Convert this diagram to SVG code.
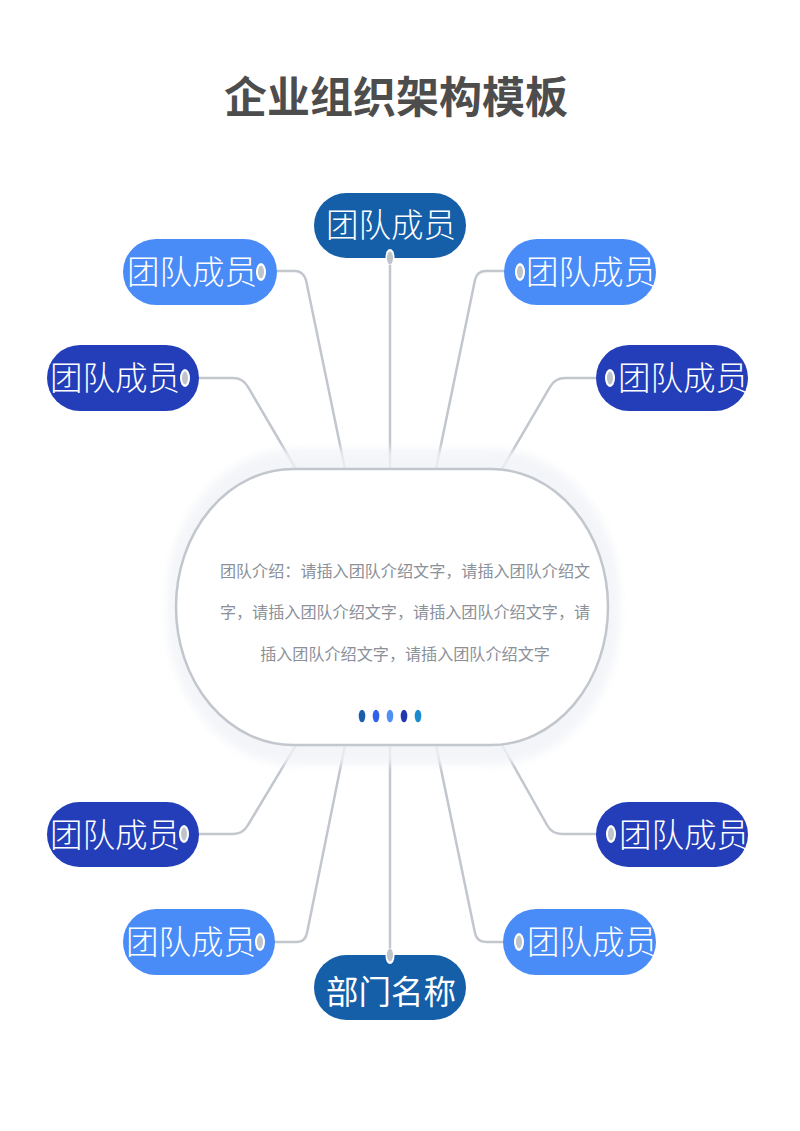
<svg xmlns="http://www.w3.org/2000/svg" width="800" height="1131" viewBox="0 0 800 1131">
<defs>
<style>
.conn{fill:none;stroke:#c2c6cd;stroke-width:2.5;stroke-linecap:round}
.pill-dark{fill:#233eb8}
.pill-light{fill:#4a8cf7}
.pill-main{fill:#155ea8}
.lbl{font-family:"Noto Sans CJK SC","Noto Sans",sans-serif;font-size:32.5px;fill:#ffffff;font-weight:300}
.knob-o{fill:#ffffff}
.knob-i{fill:#bfc3ca}
.intro{font-family:"Noto Sans CJK SC","Noto Sans",sans-serif;font-size:16.1px;fill:#8b9099}
</style>
<filter id="blur" x="-20%" y="-20%" width="140%" height="140%"><feGaussianBlur stdDeviation="4"/></filter>
</defs>
<rect width="800" height="1131" fill="#ffffff"/>
<text x="396" y="113" text-anchor="middle" font-family="'Noto Sans CJK SC','Noto Sans',sans-serif" font-size="43" font-weight="bold" fill="#4d4d4d">企业组织架构模板</text>

<g id="connectors">
<path class="conn" d="M390,258 V469"/>
<path class="conn" d="M277,271 H295 Q303,271 306,280 L345,469"/>
<path class="conn" d="M199,378 H233 Q243,378 248,387 L296,469"/>
<path class="conn" d="M504,271 H486 Q477,271 475,280 L436,469"/>
<path class="conn" d="M596,378 H565 Q555,378 550,387 L502,469"/>
<path class="conn" d="M390,745 V958"/>
<path class="conn" d="M199,834 H233 Q243,834 248,825 L296,745"/>
<path class="conn" d="M275,942 H297 Q305,942 307,933 L345,745"/>
<path class="conn" d="M596,834 H562 Q552,834 547,825 L502,745"/>
<path class="conn" d="M503,942 H486 Q477,942 475,933 L436,745"/>
</g>

<g id="center">
<rect x="167" y="449" width="453" height="316" rx="128" ry="150" fill="#f1f3f7" opacity="0.8" filter="url(#blur)"/>
<rect x="176" y="469" width="432" height="276" rx="117" ry="138" fill="#ffffff" stroke="#c2c6cd" stroke-width="2.5"/>
<text class="intro" x="405" y="577" text-anchor="middle">团队介绍：请插入团队介绍文字，请插入团队介绍文</text>
<text class="intro" x="405" y="618" text-anchor="middle">字，请插入团队介绍文字，请插入团队介绍文字，请</text>
<text class="intro" x="405" y="660" text-anchor="middle">插入团队介绍文字，请插入团队介绍文字</text>
<ellipse cx="362" cy="716" rx="3.3" ry="6.3" fill="#1a5fa8"/>
<ellipse cx="376" cy="716" rx="3.3" ry="6.3" fill="#2f62e6"/>
<ellipse cx="390" cy="716" rx="3.3" ry="6.3" fill="#5090f5"/>
<ellipse cx="404" cy="716" rx="3.3" ry="6.3" fill="#2238b0"/>
<ellipse cx="418" cy="716" rx="3.3" ry="6.3" fill="#1a8bd0"/>
</g>

<g id="node-top">
<rect class="pill-main" x="314" y="193" width="152" height="65" rx="32.5"/>
<text class="lbl" x="391" y="237" text-anchor="middle">团队成员</text>
<ellipse class="knob-o" cx="390" cy="257" rx="4.5" ry="8"/>
<ellipse class="knob-i" cx="390" cy="258" rx="3" ry="6.5"/>
</g>

<g id="node-ul">
<rect class="pill-light" x="123" y="239" width="154" height="66" rx="33"/>
<text class="lbl" x="192" y="284" text-anchor="middle">团队成员</text>
<ellipse class="knob-o" cx="261" cy="272" rx="5" ry="9"/>
<ellipse class="knob-i" cx="261" cy="272" rx="3" ry="6.5"/>
</g>

<g id="node-l">
<rect class="pill-dark" x="47" y="345" width="152" height="66" rx="33"/>
<text class="lbl" x="115" y="390" text-anchor="middle">团队成员</text>
<ellipse class="knob-o" cx="185" cy="378" rx="5" ry="9"/>
<ellipse class="knob-i" cx="185" cy="378" rx="3" ry="6.5"/>
</g>

<g id="node-ur">
<rect class="pill-light" x="504" y="239" width="152" height="66" rx="33"/>
<text class="lbl" x="591" y="284" text-anchor="middle">团队成员</text>
<ellipse class="knob-o" cx="520" cy="272" rx="5" ry="9"/>
<ellipse class="knob-i" cx="520" cy="272" rx="3" ry="6.5"/>
</g>

<g id="node-r">
<rect class="pill-dark" x="596" y="345" width="152" height="66" rx="33"/>
<text class="lbl" x="683" y="390" text-anchor="middle">团队成员</text>
<ellipse class="knob-o" cx="610" cy="378" rx="5" ry="9"/>
<ellipse class="knob-i" cx="610" cy="378" rx="3" ry="6.5"/>
</g>

<g id="node-ll">
<rect class="pill-dark" x="47" y="802" width="152" height="65" rx="32.5"/>
<text class="lbl" x="115" y="847" text-anchor="middle">团队成员</text>
<ellipse class="knob-o" cx="184" cy="834" rx="5" ry="9"/>
<ellipse class="knob-i" cx="184" cy="834" rx="3" ry="6.5"/>
</g>

<g id="node-bl">
<rect class="pill-light" x="123" y="909" width="152" height="66" rx="33"/>
<text class="lbl" x="191" y="954" text-anchor="middle">团队成员</text>
<ellipse class="knob-o" cx="260" cy="942" rx="5" ry="9"/>
<ellipse class="knob-i" cx="260" cy="942" rx="3" ry="6.5"/>
</g>

<g id="node-bottom">
<rect class="pill-main" x="314" y="955" width="152" height="65" rx="32.5"/>
<text class="lbl" x="391" y="1004" text-anchor="middle" style="font-weight:400">部门名称</text>
<ellipse class="knob-o" cx="390" cy="956" rx="4.5" ry="8"/>
<ellipse class="knob-i" cx="390" cy="955" rx="3" ry="6.5"/>
</g>

<g id="node-lr">
<rect class="pill-dark" x="596" y="802" width="152" height="65" rx="32.5"/>
<text class="lbl" x="684" y="847" text-anchor="middle">团队成员</text>
<ellipse class="knob-o" cx="611" cy="834" rx="5" ry="9"/>
<ellipse class="knob-i" cx="611" cy="834" rx="3" ry="6.5"/>
</g>

<g id="node-br">
<rect class="pill-light" x="503" y="909" width="153" height="66" rx="33"/>
<text class="lbl" x="592" y="954" text-anchor="middle">团队成员</text>
<ellipse class="knob-o" cx="519" cy="942" rx="5" ry="9"/>
<ellipse class="knob-i" cx="519" cy="942" rx="3" ry="6.5"/>
</g>
</svg>
